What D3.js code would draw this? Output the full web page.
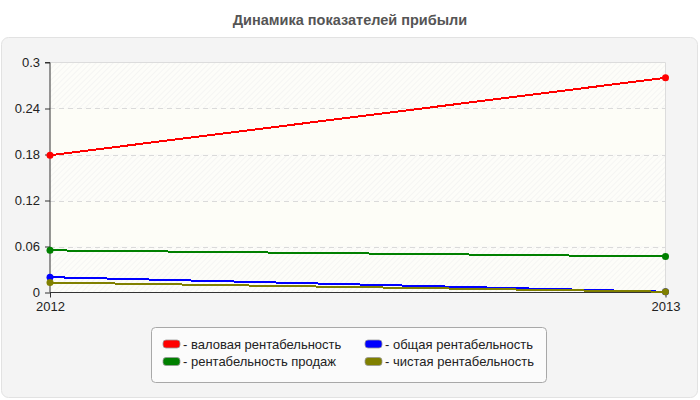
<!DOCTYPE html>
<html>
<head>
<meta charset="utf-8">
<title>Динамика показателей прибыли</title>
<script src="https://cdnjs.cloudflare.com/ajax/libs/d3/7.8.5/d3.min.js"></script>
<style>
  body { margin: 0; background: #fff; }
  svg { display: block; font-family: "Liberation Sans", Arial, sans-serif; }
</style>
</head>
<body>
<svg id="chart" width="700" height="400"></svg>
<script>
// data
var years = ['2012', '2013'];
var grossMargin = [0.179, 0.28];
var salesMargin = [0.055, 0.047];
var totalMargin = [0.02, 0.001];
var netMargin = [0.013, 0.001];
var yTicks = [0, 0.06, 0.12, 0.18, 0.24, 0.3];
var seriesNames = ['- валовая рентабельность', '- общая рентабельность', '- рентабельность продаж', '- чистая рентабельность'];
var seriesColors = ['#ff0000', '#0000ff', '#008000', '#808000'];

var series = [
  { name: seriesNames[0], color: seriesColors[0], values: grossMargin },
  { name: seriesNames[2], color: seriesColors[2], values: salesMargin },
  { name: seriesNames[1], color: seriesColors[1], values: totalMargin },
  { name: seriesNames[3], color: seriesColors[3], values: netMargin }
];

var svg = d3.select('#chart');

// title
svg.append('text')
  .attr('x', 350).attr('y', 25)
  .attr('text-anchor', 'middle')
  .attr('font-size', 14.5).attr('font-weight', 'bold')
  .attr('fill', '#555')
  .text('Динамика показателей прибыли');

// outer panel
svg.append('rect')
  .attr('x', 1.5).attr('y', 37.5).attr('width', 696).attr('height', 360)
  .attr('rx', 7)
  .attr('fill', '#f4f4f4').attr('stroke', '#e2e2e2');

var plotL = 50, plotR = 665.5, plotT = 62.5, plotB = 292.5;

var x = d3.scalePoint().domain(years).range([plotL, plotR]);
var y = d3.scaleLinear().domain([0, 0.3]).range([plotB, plotT]);

// hatch pattern for the plot background
var defs = svg.append('defs');
var pat = defs.append('pattern')
  .attr('id', 'hatch').attr('width', 4).attr('height', 4)
  .attr('patternUnits', 'userSpaceOnUse')
  .attr('patternTransform', 'rotate(45)');
pat.append('rect').attr('width', 4).attr('height', 4).attr('fill', '#fdfdf9');
pat.append('line').attr('x1', 0).attr('y1', 0).attr('x2', 0).attr('y2', 4)
  .attr('stroke', '#eeeeee').attr('stroke-width', 1);

// bands: hatched and plain alternate
for (var i = 0; i < yTicks.length - 1; i++) {
  svg.append('rect')
    .attr('x', plotL).attr('width', plotR - plotL)
    .attr('y', y(yTicks[i + 1])).attr('height', y(yTicks[i]) - y(yTicks[i + 1]))
    .attr('fill', (i % 2 === 0) ? 'url(#hatch)' : '#fdfdf7');
}

// frame top and right
svg.append('path')
  .attr('d', 'M' + plotL + ',' + plotT + 'H' + plotR + 'V' + plotB)
  .attr('fill', 'none').attr('stroke', '#dcdcdc');

// grid
svg.append('g').selectAll('line')
  .data(yTicks.filter(function (d) { return d > 0 && d < 0.3; }))
  .enter().append('line')
  .attr('x1', plotL).attr('x2', plotR)
  .attr('y1', function (d) { return Math.round(y(d)) + 0.5; })
  .attr('y2', function (d) { return Math.round(y(d)) + 0.5; })
  .attr('stroke', '#dadada').attr('stroke-dasharray', '5,4');

// axes
var yAxis = svg.append('g')
  .attr('transform', 'translate(' + plotL + ',0)')
  .call(d3.axisLeft(y).tickValues(yTicks).tickSize(5).tickPadding(5)
    .tickFormat(function (d) { return String(+d.toFixed(2)); }));
var xAxis = svg.append('g')
  .attr('transform', 'translate(0,' + plotB + ')')
  .call(d3.axisBottom(x).tickSize(5).tickPadding(4));
[yAxis, xAxis].forEach(function (a) {
  a.select('.domain').attr('stroke', '#333');
  a.selectAll('.tick line').attr('stroke', '#333');
  a.selectAll('.tick text').attr('font-size', 13).attr('fill', '#222')
    .attr('font-family', '"Liberation Sans", Arial, sans-serif');
});
yAxis.select('.domain').attr('d', 'M-5,' + plotT + 'H0V' + plotB);
xAxis.select('.domain').attr('d', 'M' + plotL + ',0H' + plotR);

// lines
var line = d3.line()
  .x(function (d, i) { return x(years[i]); })
  .y(function (d) { return y(d); });

series.forEach(function (s) {
  svg.append('path')
    .datum(s.values)
    .attr('d', line)
    .attr('fill', 'none')
    .attr('stroke', s.color)
    .attr('stroke-width', 2)
    .attr('shape-rendering', 'crispEdges');
  svg.append('g').selectAll('circle')
    .data(s.values).enter().append('circle')
    .attr('cx', function (d, i) { return x(years[i]); })
    .attr('cy', function (d) { return y(d); })
    .attr('r', 3.5)
    .attr('fill', s.color);
});

// legend
var lg = svg.append('g');
lg.append('rect')
  .attr('x', 151.5).attr('y', 327.5).attr('width', 395).attr('height', 55)
  .attr('rx', 4)
  .attr('fill', '#fbfbfb').attr('stroke', '#a8a8a8');

var legendItems = [
  { name: seriesNames[0], color: seriesColors[0], col: 0, row: 0 },
  { name: seriesNames[1], color: seriesColors[1], col: 1, row: 0 },
  { name: seriesNames[2], color: seriesColors[2], col: 0, row: 1 },
  { name: seriesNames[3], color: seriesColors[3], col: 1, row: 1 }
];
var item = lg.selectAll('g.item').data(legendItems).enter().append('g')
  .attr('transform', function (d) {
    return 'translate(' + (163 + d.col * 202) + ',' + (344 + d.row * 17.5) + ')';
  });
item.append('rect')
  .attr('x', 0).attr('y', -4).attr('width', 17).attr('height', 8)
  .attr('rx', 3)
  .attr('fill', function (d) { return d.color; })
  .attr('stroke', '#999').attr('stroke-width', 0.8);
item.append('text')
  .attr('x', 20).attr('y', 4.5)
  .attr('font-size', 13).attr('fill', '#222')
  .text(function (d) { return d.name; });
</script>
</body>
</html>
